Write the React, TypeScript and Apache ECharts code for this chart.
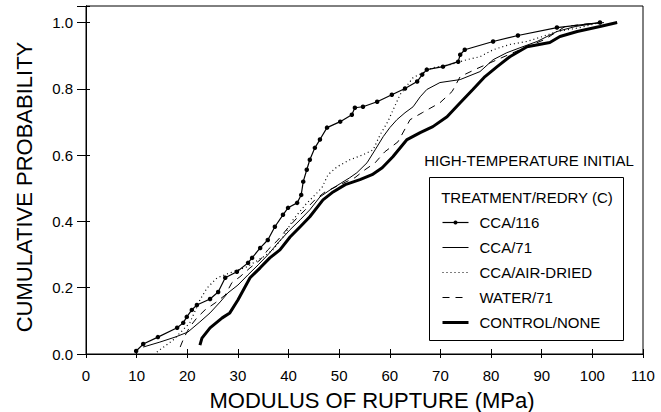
import React, { useEffect, useRef } from "react";
import * as echarts from "echarts";

const xTicks = [0, 110];
const yTicks = [0, 1.05];

const seriesNames = ["CCA/116", "CCA/71", "CCA/AIR-DRIED", "WATER/71", "CONTROL/NONE"];

const cca116X = [9.9, 11.3, 14.2, 18.0, 19.2, 19.9, 20.9, 21.9, 24.5, 26.1, 27.5, 29.8, 32.0, 32.8, 34.4, 35.9, 37.3, 38.9, 39.9, 41.7, 42.5, 42.9, 43.6, 44.2, 45.2, 46.2, 47.6, 50.2, 52.5, 53.1, 54.7, 57.5, 60.4, 63.0, 65.4, 66.4, 67.3, 70.5, 73.5, 73.9, 74.8, 80.4, 85.3, 93.0, 101.5];
const cca116Y = [0.009, 0.03, 0.051, 0.079, 0.094, 0.112, 0.133, 0.148, 0.166, 0.187, 0.23, 0.248, 0.275, 0.29, 0.32, 0.344, 0.384, 0.42, 0.441, 0.456, 0.48, 0.52, 0.556, 0.586, 0.622, 0.647, 0.683, 0.701, 0.722, 0.743, 0.746, 0.761, 0.782, 0.801, 0.822, 0.843, 0.858, 0.867, 0.882, 0.903, 0.918, 0.943, 0.961, 0.985, 1.0];

const cca71X = [11.3, 14.6, 17.6, 20.1, 22.5, 24.5, 26.5, 28.0, 30.0, 32.0, 34.0, 35.9, 37.9, 40.3, 42.3, 44.2, 46.2, 48.2, 50.2, 52.1, 53.5, 55.5, 57.1, 58.7, 60.0, 61.4, 63.0, 64.6, 66.0, 67.3, 69.9, 73.9, 77.8, 80.4, 83.1, 85.7, 89.1, 93.0, 96.6, 101.5];
const cca71Y = [0.021, 0.036, 0.051, 0.066, 0.097, 0.124, 0.157, 0.184, 0.208, 0.239, 0.269, 0.299, 0.335, 0.375, 0.405, 0.435, 0.474, 0.495, 0.514, 0.532, 0.547, 0.577, 0.616, 0.656, 0.683, 0.707, 0.728, 0.746, 0.776, 0.798, 0.819, 0.828, 0.852, 0.888, 0.909, 0.924, 0.943, 0.973, 0.988, 1.0];

const airX = [14.0, 17.2, 20.5, 22.5, 23.9, 25.9, 29.0, 31.8, 35.0, 36.9, 38.9, 40.9, 43.3, 45.6, 46.6, 47.8, 49.6, 52.1, 54.7, 56.7, 58.1, 59.6, 62.0, 64.6, 68.5, 71.9, 75.2, 77.8, 80.4, 83.7, 87.1, 90.2, 93.0, 97.6, 101.5];
const airY = [0.006, 0.042, 0.094, 0.163, 0.199, 0.23, 0.248, 0.263, 0.293, 0.314, 0.353, 0.405, 0.45, 0.486, 0.502, 0.541, 0.565, 0.586, 0.601, 0.616, 0.662, 0.701, 0.782, 0.834, 0.864, 0.873, 0.888, 0.897, 0.918, 0.934, 0.943, 0.958, 0.973, 0.985, 1.0];

const waterX = [18.6, 19.4, 20.5, 21.9, 23.5, 25.5, 27.5, 28.8, 30.4, 32.4, 34.4, 35.9, 37.9, 39.9, 41.7, 43.3, 45.2, 47.2, 50.2, 53.1, 55.1, 57.1, 59.0, 61.6, 64.0, 66.4, 69.9, 72.3, 73.9, 77.2, 81.2, 85.7, 90.6, 94.6, 99.5, 102.5];
const waterY = [0.021, 0.051, 0.082, 0.109, 0.133, 0.154, 0.178, 0.215, 0.233, 0.26, 0.284, 0.314, 0.344, 0.381, 0.411, 0.435, 0.465, 0.489, 0.511, 0.532, 0.556, 0.577, 0.61, 0.64, 0.707, 0.728, 0.758, 0.792, 0.837, 0.861, 0.888, 0.918, 0.949, 0.988, 0.997, 1.0];

const controlX = [22.5, 22.9, 24.5, 26.9, 28.4, 30.0, 31.4, 32.4, 34.4, 36.3, 38.3, 40.3, 42.3, 44.2, 46.8, 48.8, 51.2, 54.1, 56.5, 58.5, 60.6, 63.4, 66.0, 68.5, 71.3, 73.9, 76.4, 78.8, 81.2, 83.7, 87.1, 91.6, 93.6, 97.0, 101.5, 104.9];
const controlY = [0.027, 0.048, 0.079, 0.109, 0.124, 0.163, 0.202, 0.23, 0.26, 0.29, 0.314, 0.353, 0.384, 0.414, 0.465, 0.489, 0.511, 0.526, 0.541, 0.562, 0.595, 0.647, 0.668, 0.686, 0.716, 0.758, 0.798, 0.837, 0.867, 0.897, 0.927, 0.94, 0.958, 0.973, 0.988, 1.0];

const FONT = "Liberation Sans, Arial, sans-serif";

function pairs(xs: number[], ys: number[]) {
  return xs.map((x, i) => [x, ys[i]]);
}

export default function App() {
  const ref = useRef<HTMLDivElement>(null);
  useEffect(() => {
    if (!ref.current) return;
    const chart = echarts.init(ref.current, undefined, { renderer: "svg" });
    const lineBase = { type: "line", xAxisIndex: 0, yAxisIndex: 0, symbol: "none", silent: true, z: 2 };
    const hidden = { color: "rgba(0,0,0,0)", borderWidth: 0, opacity: 0 };
    chart.setOption({
      animation: false,
      backgroundColor: "#fff",
      grid: { left: 86, right: 18, top: 6, bottom: 58, show: true, borderColor: "#000", borderWidth: 1 },
      xAxis: [
        {
          type: "value", min: xTicks[0], max: xTicks[1], interval: 10,
          axisLine: { show: true, onZero: false, lineStyle: { color: "#000", width: 1 } },
          axisTick: { show: true, inside: false, length: 4, lineStyle: { color: "#000" } },
          axisLabel: { color: "#000", fontFamily: FONT, fontSize: 15, margin: 14 },
          splitLine: { show: false },
        },
        {
          type: "value", min: xTicks[0], max: xTicks[1], interval: 10, position: "bottom",
          axisLine: { show: true, onZero: false, lineStyle: { color: "#000", width: 1 } },
          axisTick: { show: true, inside: true, length: 5, lineStyle: { color: "#000" } },
          axisLabel: { show: false },
          splitLine: { show: false },
        },
      ],
      yAxis: [
        {
          type: "value", min: yTicks[0], max: yTicks[1], interval: 0.2,
          axisLine: { show: true, onZero: false, lineStyle: { color: "#000", width: 1 } },
          axisTick: { show: true, inside: false, length: 9, lineStyle: { color: "#000" } },
          axisLabel: {
            color: "#000", fontFamily: FONT, fontSize: 15, margin: 13,
            formatter: (v: number) => (v > 1.001 ? "" : v.toFixed(1)),
          },
          splitLine: { show: false },
        },
        {
          type: "value", min: yTicks[0], max: yTicks[1], interval: 0.2, position: "left",
          axisLine: { show: true, onZero: false, lineStyle: { color: "#000", width: 1 } },
          axisTick: { show: true, inside: true, length: 4, lineStyle: { color: "#000" } },
          axisLabel: { show: false },
          splitLine: { show: false },
        },
      ],
      legend: {
        orient: "vertical",
        left: 441,
        top: 215,
        padding: 0,
        z: 10,
        itemWidth: 26,
        itemHeight: 5,
        itemGap: 10,
        selectedMode: false,
        lineStyle: { width: "inherit" },
        data: [
          { name: seriesNames[0] },
          { name: seriesNames[1], itemStyle: hidden },
          { name: seriesNames[2], itemStyle: hidden },
          { name: seriesNames[3], itemStyle: hidden },
          { name: seriesNames[4], itemStyle: hidden },
        ],
        textStyle: { color: "#000", fontFamily: FONT, fontSize: 15, padding: [0, 0, 0, 6] },
      },
      graphic: [
        {
          type: "rect", left: 429, top: 177, z: 5,
          shape: { width: 194, height: 163 },
          style: { fill: "#fff", stroke: "#000", lineWidth: 1 },
        },
        {
          type: "text", x: 527, y: 197, z: 11,
          style: { text: "TREATMENT/REDRY (C)", fill: "#000", font: `15px ${FONT}`, align: "center", verticalAlign: "middle" },
        },
        {
          type: "text", x: 529, y: 160, z: 11,
          style: { text: "HIGH-TEMPERATURE INITIAL", fill: "#000", font: `15px ${FONT}`, align: "center", verticalAlign: "middle" },
        },
        {
          type: "text", x: 372, y: 400, z: 11,
          style: { text: "MODULUS OF RUPTURE (MPa)", fill: "#000", font: `22px ${FONT}`, align: "center", verticalAlign: "middle" },
        },
        {
          type: "text", x: 24, y: 187, rotation: Math.PI / 2, z: 11,
          style: { text: "CUMULATIVE PROBABILITY", fill: "#000", font: `22px ${FONT}`, align: "center", verticalAlign: "middle" },
        },
      ],
      series: [
        {
          ...lineBase, name: seriesNames[0], data: pairs(cca116X, cca116Y),
          symbol: "circle", symbolSize: 4.5, showSymbol: true,
          itemStyle: { color: "#000" },
          lineStyle: { color: "#000", width: 1.2 },
        },
        {
          ...lineBase, name: seriesNames[1], data: pairs(cca71X, cca71Y),
          itemStyle: { color: "#000" },
          lineStyle: { color: "#000", width: 1 },
        },
        {
          ...lineBase, name: seriesNames[2], data: pairs(airX, airY),
          itemStyle: { color: "#000" },
          lineStyle: { color: "#000", width: 1.2, type: [1, 3] },
        },
        {
          ...lineBase, name: seriesNames[3], data: pairs(waterX, waterY),
          itemStyle: { color: "#000" },
          lineStyle: { color: "#000", width: 1, type: [7, 6] },
        },
        {
          ...lineBase, name: seriesNames[4], data: pairs(controlX, controlY),
          itemStyle: { color: "#000" },
          lineStyle: { color: "#000", width: 3 },
        },
      ],
    });
    return () => chart.dispose();
  }, []);
  return <div ref={ref} style={{ width: 661, height: 412, position: "absolute", left: 0, top: 0 }} />;
}
